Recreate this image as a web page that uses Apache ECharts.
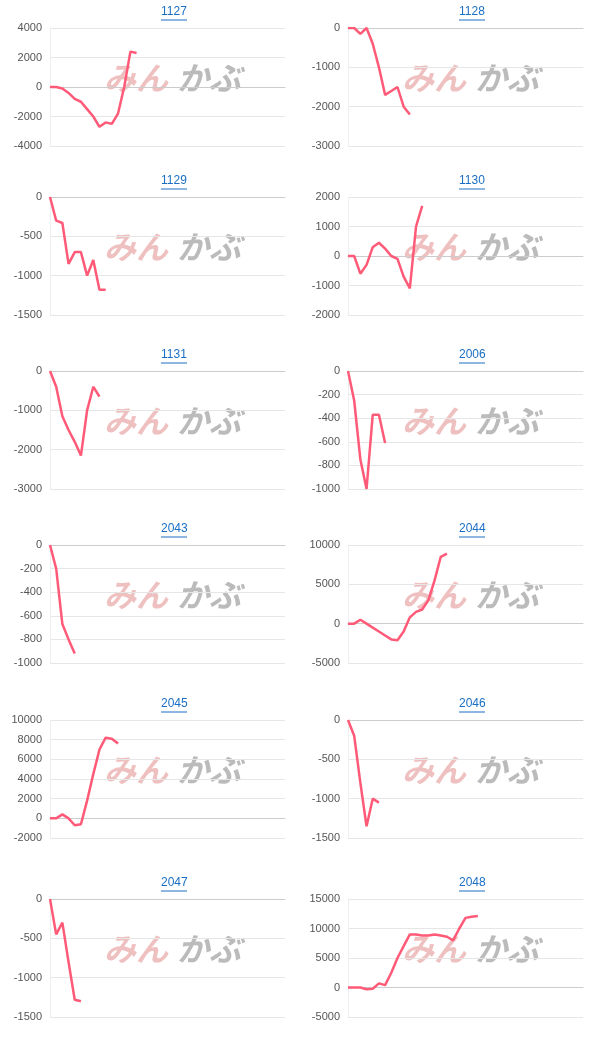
<!DOCTYPE html>
<html><head><meta charset="utf-8">
<script src="https://cdn.jsdelivr.net/npm/echarts@6/dist/echarts.min.js"></script>
<style>body{margin:0;background:#fff}.c{position:absolute;width:300px;height:178px}</style>
</head><body>
<script>
// chart names, y ranges and series values
var names = ['1127','1128','1129','1130','1131','2006','2043','2044','2045','2046','2047','2048'];
var yMin = [-4000,-3000,-1500,-2000,-3000,-1000,-1000,-5000,-2000,-1500,-1500,-5000];
var yMax = [4000,0,0,2000,0,0,0,10000,10000,0,0,15000];
var yStep = [2000,1000,500,1000,1000,200,200,5000,2000,500,500,5000];
var s1127 = [0,0,-100,-400,-800,-1000,-1500,-2000,-2700,-2400,-2500,-1800,0,2400,2300];
var s1128 = [0,0,-150,0,-400,-1000,-1700,-1600,-1500,-2000,-2200];
var s1129 = [0,-300,-330,-850,-700,-700,-1000,-800,-1180,-1180];
var s1130 = [0,0,-600,-300,300,450,250,0,-100,-700,-1100,1000,1700];
var s1131 = [0,-400,-1150,-1500,-1800,-2150,-1000,-400,-650];
var s2006 = [0,-250,-750,-1000,-370,-370,-610];
var s2043 = [0,-200,-670,-800,-920];
var s2044 = [0,0,500,0,-500,-1000,-1500,-2000,-2100,-1000,800,1500,1800,3000,5500,8500,8900];
var s2045 = [0,0,400,0,-700,-600,1800,4500,7000,8200,8100,7600];
var s2046 = [0,-200,-800,-1350,-1000,-1050];
var s2047 = [0,-450,-300,-800,-1280,-1300];
var s2048 = [0,0,0,-300,-200,700,400,2500,5000,7000,9000,9000,8800,8800,9000,8800,8600,8000,10000,11800,12000,12100];
var series = [s1127,s1128,s1129,s1130,s1131,s2006,s2043,s2044,s2045,s2046,s2047,s2048];
var nCats = 39;
var cats = [];
for (var i = 0; i < nCats; i++) cats.push(i + 1);

var rowTops = [0,169,343,517,692,871];
names.forEach(function (name, i) {
    var d = document.createElement('div');
    d.className = 'c';
    d.style.left = (i % 2 ? 298 : 0) + 'px';
    d.style.top = rowTops[Math.floor(i / 2)] + 'px';
    document.body.appendChild(d);
    var chart = echarts.init(d);
    chart.setOption({
        animation: false,
        title: {
            text: name, left: 161, top: 6, padding: 0,
            textStyle: {color: '#1a6fc4', fontSize: 12, fontWeight: 'normal', fontFamily: 'Arial'}
        },
        graphic: [
            {type: 'line', shape: {x1: 161, y1: 20, x2: 187, y2: 20}, style: {stroke: '#1a6fc4', lineWidth: 1}},
            {type: 'text', left: 104, top: 62, z: 0, style: {text: 'みん', fill: 'rgba(225,140,140,0.55)', font: 'italic bold 32px "Noto Sans CJK JP"'}},
            {type: 'text', left: 177, top: 62, z: 0, style: {text: 'かぶ', fill: 'rgba(150,150,150,0.65)', font: 'italic bold 32px "Noto Sans CJK JP"'}}
        ],
        grid: {left: 50, right: 15, top: 28, height: 118},
        xAxis: {
            type: 'category', data: cats, boundaryGap: false,
            axisLine: {onZero: true, lineStyle: {color: '#ccc'}},
            axisTick: {show: false}, axisLabel: {show: false}
        },
        yAxis: {
            type: 'value', min: yMin[i], max: yMax[i], interval: yStep[i],
            axisLine: {show: true, lineStyle: {color: '#eee'}},
            axisLabel: {color: '#555', fontSize: 11, fontFamily: 'Arial', formatter: function (v) { return String(v); }},
            splitLine: {lineStyle: {color: '#e6e6e6'}}
        },
        series: [{
            type: 'line', data: series[i], showSymbol: false,
            lineStyle: {color: '#ff5a78', width: 2.5}, z: 3
        }]
    });
});
</script>
</body></html>
